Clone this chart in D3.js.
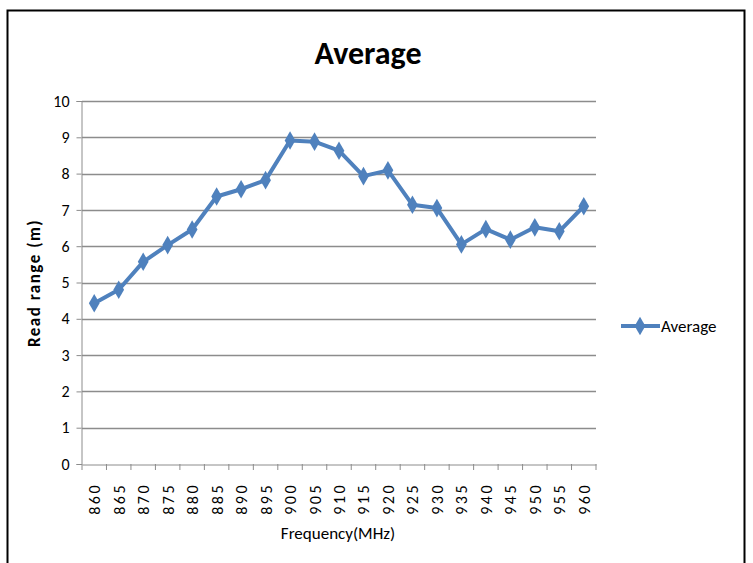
<!DOCTYPE html>
<html><head><meta charset="utf-8">
<script src="https://cdn.jsdelivr.net/npm/d3@7"></script>
<style>body{margin:0;background:#fff}svg{display:block}</style>
</head><body>
<script>
const categories = ["860","865","870","875","880","885","890","895","900","905","910","915","920","925","930","935","940","945","950","955","960"];
const averageValues = [4.43,4.8,5.57,6.03,6.46,7.37,7.57,7.82,8.91,8.88,8.63,7.93,8.09,7.14,7.05,6.05,6.47,6.18,6.52,6.41,7.1];
const yTicks = [0,1,2,3,4,5,6,7,8,9,10];
const seriesName = "Average";
const titleText = "Average";
const xTitle = "Frequency(MHz)";
const yTitle = "Read range (m)";

const W = 753, H = 563;
const font = "Carlito, Calibri, 'Open Sans', sans-serif";
const svg = d3.select("body").append("svg").attr("width", W).attr("height", H);
svg.append("rect").attr("width", W).attr("height", H).attr("fill", "#fff");
// frame (top, left, right)
svg.append("path").attr("d", "M7.5,580 V10.5 H744.5 V580").attr("fill","none").attr("stroke","#000").attr("stroke-width",2);

const pLeft = 82, pRight = 596, pTop = 101, pBottom = 464;
const x = d3.scaleBand().domain(categories).range([pLeft, pRight]);
const y = d3.scaleLinear().domain([0, 10]).range([pBottom, pTop]);

// gridlines
svg.append("g").selectAll("line").data(yTicks.filter(d => d > 0)).join("line")
  .attr("x1", pLeft).attr("x2", pRight)
  .attr("y1", d => Math.round(y(d)) + 0.5).attr("y2", d => Math.round(y(d)) + 0.5)
  .attr("stroke", "#8c8c8c").attr("stroke-width", 1.3);

// y axis
const yAxis = svg.append("g").attr("transform", `translate(${pLeft - 0.5},0)`)
  .call(d3.axisLeft(y).tickValues(yTicks).tickSize(5).tickPadding(7));
yAxis.select(".domain").attr("stroke", "#8c8c8c");
yAxis.selectAll(".tick line").attr("stroke", "#8c8c8c");
yAxis.selectAll("text").attr("font-family", font).attr("font-size", 16).attr("fill", "#000");

// x axis
const xAxis = svg.append("g").attr("transform", `translate(0,${pBottom + 0.5})`)
  .call(d3.axisBottom(x).tickValues([]).tickSize(0));
xAxis.select(".domain").attr("stroke", "#8c8c8c");
const bounds = categories.map(c => x(c)).concat([pRight]);
svg.append("g").selectAll("line").data(bounds).join("line")
  .attr("x1", d => d).attr("x2", d => d).attr("y1", pBottom).attr("y2", pBottom + 6)
  .attr("stroke", "#8c8c8c");
svg.append("g").selectAll("text").data(categories).join("text")
  .attr("transform", d => `translate(${x(d) + x.bandwidth()/2 + 6},${pBottom + 19}) rotate(-90)`)
  .attr("text-anchor", "end").attr("font-family", font).attr("font-size", 16)
  .attr("letter-spacing", 2.5).attr("fill", "#000").text(d => d);

// line
const line = d3.line().x((d, i) => x(categories[i]) + x.bandwidth()/2).y(d => y(d));
const color = "#4F81BD";
svg.append("path").datum(averageValues).attr("d", line)
  .attr("fill", "none").attr("stroke", color).attr("stroke-width", 4).attr("stroke-linejoin", "round");
const diamond = d3.symbol().type(d3.symbolDiamond).size(100);
svg.append("g").selectAll("path").data(averageValues).join("path")
  .attr("d", diamond)
  .attr("transform", (d, i) => `translate(${x(categories[i]) + x.bandwidth()/2},${y(d)})`)
  .attr("fill", color);

// titles
svg.append("text").attr("x", 368).attr("y", 64).attr("text-anchor", "middle")
  .attr("font-family", font).attr("font-weight", "bold").attr("font-size", 32).text(titleText);
svg.append("text").attr("x", 338).attr("y", 539).attr("text-anchor", "middle")
  .attr("font-family", font).attr("font-size", 17).text(xTitle);
svg.append("text").attr("transform", "translate(40,283) rotate(-90)").attr("text-anchor", "middle")
  .attr("font-family", font).attr("font-weight", "bold").attr("font-size", 17).attr("letter-spacing", 1.5).text(yTitle);

// legend
svg.append("line").attr("x1", 621).attr("x2", 660).attr("y1", 326).attr("y2", 326)
  .attr("stroke", color).attr("stroke-width", 4);
svg.append("path").attr("d", diamond).attr("transform", "translate(640,326)").attr("fill", color);
svg.append("text").attr("x", 661).attr("y", 332).attr("font-family", font).attr("font-size", 17).text(seriesName);
</script>
</body></html>
